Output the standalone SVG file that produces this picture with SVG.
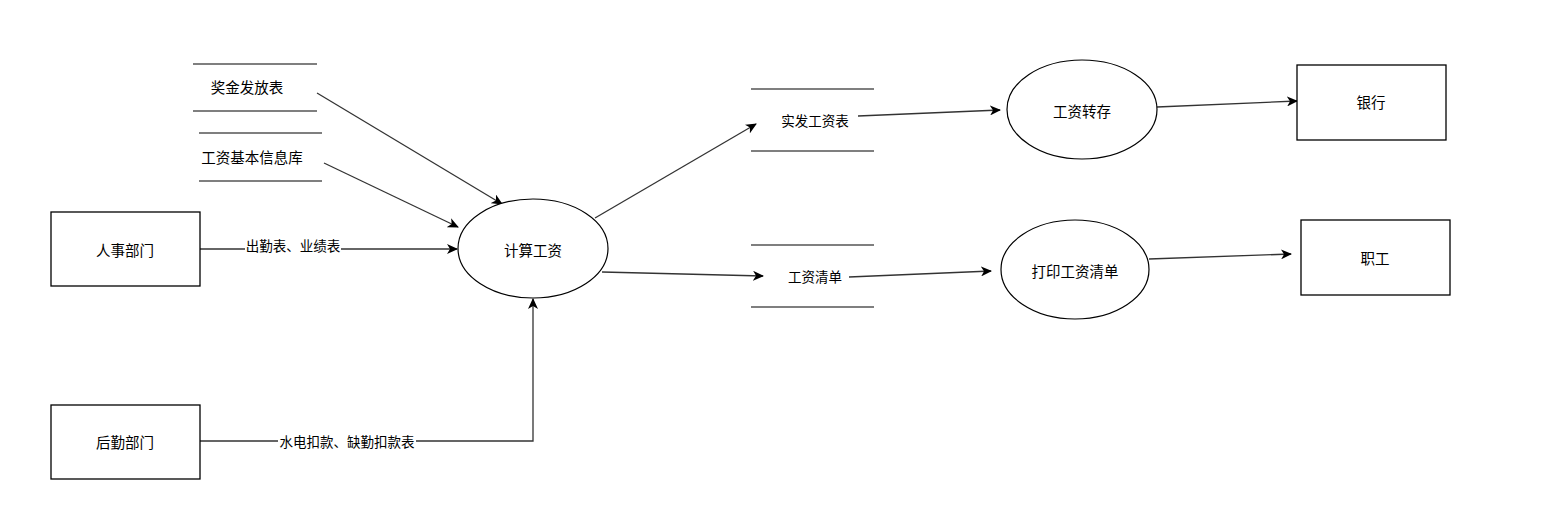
<svg xmlns="http://www.w3.org/2000/svg" width="1563" height="528" viewBox="0 0 1563 528">
<defs>
<marker id="arr" markerWidth="12" markerHeight="10" refX="10" refY="5" orient="auto" markerUnits="userSpaceOnUse">
<path d="M0,0 L11,5 L0,10 L3,5 Z" fill="#000"/>
</marker>
<style>
.box{fill:#fff;stroke:#000;stroke-width:1.3}
.ell{fill:#fff;stroke:#000;stroke-width:1.2}
.store{stroke:#555;stroke-width:1.5}
.t{font-family:"Noto Sans CJK SC","Liberation Sans",sans-serif;font-size:14.5px;fill:#000;text-anchor:middle;dominant-baseline:central}
.ts{font-family:"Noto Sans CJK SC","Liberation Sans",sans-serif;font-size:13.5px;fill:#000;text-anchor:middle;dominant-baseline:central}
.lbl{fill:#fff}
.c{fill:none;stroke:#333;stroke-width:1.3;marker-end:url(#arr)}
</style>
</defs>
<rect width="1563" height="528" fill="#fff"/>
<g id="connectors">
<path class="c" d="M317,93 L502,204"/>
<path class="c" d="M324,163 L458,227"/>
<path class="c" d="M200,249 L457,249"/>
<path class="c" d="M200,441 L533,441 L533,299"/>
<path class="c" d="M595,218 L756,124"/>
<path class="c" d="M602,272 L763,276"/>
<path class="c" d="M858,116 L1000,110"/>
<path class="c" d="M849,277 L991,271"/>
<path class="c" d="M1157,107 L1297,101"/>
<path class="c" d="M1149,259 L1291,254"/>
<rect class="lbl" x="245" y="238" width="96" height="16"/>
<text class="ts" x="293" y="245">出勤表、业绩表</text>
<rect class="lbl" x="278" y="433" width="138" height="16"/>
<text class="ts" x="347" y="441">水电扣款、缺勤扣款表</text>
</g>
<g id="store-bonus">
<line class="store" x1="193" y1="64" x2="317" y2="64"/>
<line class="store" x1="193" y1="111" x2="317" y2="111"/>
<text class="t" x="247" y="86">奖金发放表</text>
</g>
<g id="store-basic">
<line class="store" x1="199" y1="133" x2="322" y2="133"/>
<line class="store" x1="199" y1="181" x2="322" y2="181"/>
<text class="t" x="252" y="156">工资基本信息库</text>
</g>
<g id="hr">
<rect class="box" x="51" y="212" width="149" height="74"/>
<text class="t" x="125" y="249">人事部门</text>
</g>
<g id="logistics">
<rect class="box" x="51" y="405" width="149" height="74"/>
<text class="t" x="125" y="441">后勤部门</text>
</g>
<g id="calc">
<ellipse class="ell" cx="533" cy="248.5" rx="75" ry="49.5"/>
<text class="t" x="533" y="249">计算工资</text>
</g>
<g id="store-paid">
<line class="store" x1="751" y1="89" x2="874" y2="89"/>
<line class="store" x1="751" y1="151" x2="874" y2="151"/>
<text class="ts" x="815" y="120">实发工资表</text>
</g>
<g id="store-list">
<line class="store" x1="751" y1="245" x2="874" y2="245"/>
<line class="store" x1="751" y1="307" x2="874" y2="307"/>
<text class="ts" x="815" y="276">工资清单</text>
</g>
<g id="transfer">
<ellipse class="ell" cx="1082" cy="109.5" rx="75" ry="49.5"/>
<text class="t" x="1082" y="110">工资转存</text>
</g>
<g id="print">
<ellipse class="ell" cx="1075" cy="269.5" rx="74" ry="49.5"/>
<text class="t" x="1075" y="270">打印工资清单</text>
</g>
<g id="bank">
<rect class="box" x="1297" y="65" width="149" height="75"/>
<text class="t" x="1371" y="101">银行</text>
</g>
<g id="staff">
<rect class="box" x="1301" y="220" width="149" height="75"/>
<text class="t" x="1375" y="257">职工</text>
</g>
</svg>
